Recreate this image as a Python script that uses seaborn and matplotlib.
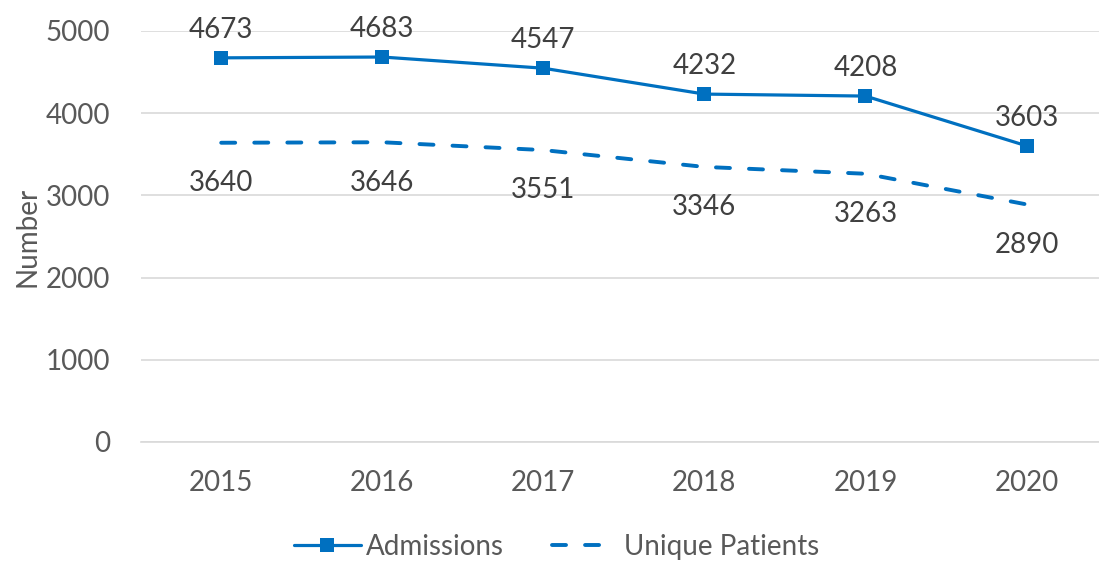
import matplotlib
matplotlib.use("Agg")
import matplotlib.pyplot as plt
import seaborn as sns
import pandas as pd

# data
years = ["2015", "2016", "2017", "2018", "2019", "2020"]
admissions = [4673, 4683, 4547, 4232, 4208, 3603]
unique_patients = [3640, 3646, 3551, 3346, 3263, 2890]

BLUE = "#0070C0"
GREY = "#595959"
FS = 20

sns.set_style("white")
plt.rcParams["font.family"] = ["Lato", "DejaVu Sans"]

fig = plt.figure(figsize=(10.99, 5.63), dpi=100)
ax = fig.add_axes([0.128, 0.215, 0.872, 0.73])

df_adm = pd.DataFrame({"Year": years, "Number": admissions})
df_uni = pd.DataFrame({"Year": years, "Number": unique_patients})

sns.lineplot(data=df_adm, x="Year", y="Number", ax=ax, color=BLUE, lw=2.3,
             marker="s", markersize=10, markeredgewidth=0, label="Admissions",
             sort=False)
sns.lineplot(data=df_uni, x="Year", y="Number", ax=ax, color=BLUE, lw=2.8,
             label="Unique Patients", sort=False)
dashed = ax.lines[1]
dashed.set_linestyle((0, (3.6, 4.9)))
dashed.set_dash_capstyle("round")

# data labels
for i, v in enumerate(admissions):
    ax.annotate(str(v), (i, v), xytext=(0, 20), textcoords="offset points",
                ha="center", va="center", fontsize=FS, color="#404040")
for i, v in enumerate(unique_patients):
    ax.annotate(str(v), (i, v), xytext=(0, -29), textcoords="offset points",
                ha="center", va="center", fontsize=FS, color="#404040")

ax.set_ylim(0, 5000)
ax.set_xlim(-0.5, 5.45)
ax.set_yticks(range(0, 5001, 1000))
ax.yaxis.grid(True, color="#D9D9D9", lw=1.2)
ax.set_axisbelow(True)
for s in ["top", "right", "left"]:
    ax.spines[s].set_visible(False)
ax.spines["bottom"].set_color("#D9D9D9")
ax.spines["bottom"].set_linewidth(1.2)
ax.tick_params(axis="both", length=0, labelsize=FS, labelcolor=GREY)
ax.tick_params(axis="x", pad=20)
ax.tick_params(axis="y", pad=22)
ax.set_xlabel("")
ax.set_ylabel("Number", fontsize=FS, color=GREY, labelpad=4)

leg = ax.legend(loc="center", bbox_to_anchor=(0.434, -0.255), ncol=2,
                frameon=False, fontsize=FS, handlelength=2.4, handletextpad=0.2,
                columnspacing=1.7)
for t in leg.get_texts():
    t.set_color(GREY)
leg.get_lines()[1].set_linestyle((0, (3.6, 4.9)))
leg.get_lines()[1].set_dash_capstyle("round")

fig.savefig("out.png", dpi=100)
